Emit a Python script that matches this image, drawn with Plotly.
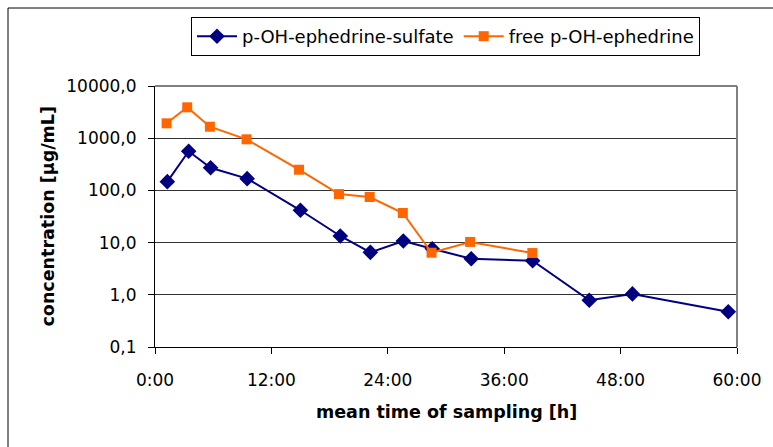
import plotly.graph_objects as go

# ---- data ----
sulfate_time_h = [1.27, 3.47, 5.73, 9.5, 14.99, 19.1, 22.2, 25.6, 28.58, 32.6, 38.93, 44.77, 49.22, 59.1]
sulfate_conc = [147, 561, 272, 168, 41.6, 13.4, 6.5, 10.7, 7.6, 4.9, 4.5, 0.785, 1.04, 0.475]

free_time_h = [1.2, 3.32, 5.66, 9.44, 14.85, 18.97, 22.13, 25.55, 28.51, 32.49, 38.9]
free_conc = [1928, 3907, 1660, 952, 249, 85, 74.8, 36.9, 6.4, 10.3, 6.3]

x_tickvals = [0, 12, 24, 36, 48, 60]
x_ticktext = ["0:00", "12:00", "24:00", "36:00", "48:00", "60:00"]
y_tickvals = [0.1, 1, 10, 100, 1000, 10000]
y_ticktext = ["0,1", "1,0", "10,0", "100,0", "1000,0", "10000,0"]

series_names = ["p-OH-ephedrine-sulfate", "free p-OH-ephedrine"]

# ---- layout geometry (pixels) ----
W, H = 773, 447
L, R, T, B = 155, 737, 86, 347
pw, ph = R - L, B - T

def px_x(p):
    return (p - L) / pw

def px_y(p):
    return (B - p) / ph

FONT = "DejaVu Sans, Verdana, sans-serif"
NAVY = "#000080"
ORANGE = "#FF6600"

fig = go.Figure()
fig.add_trace(go.Scatter(
    x=sulfate_time_h, y=sulfate_conc, mode="lines+markers", name=series_names[0],
    line=dict(color=NAVY, width=2),
    marker=dict(symbol="diamond", size=12, color=NAVY),
))
fig.add_trace(go.Scatter(
    x=free_time_h, y=free_conc, mode="lines+markers", name=series_names[1],
    line=dict(color=ORANGE, width=2),
    marker=dict(symbol="square", size=10, color=ORANGE),
))

fig.update_layout(
    width=W, height=H,
    margin=dict(l=L, r=W - R, t=T, b=H - B),
    paper_bgcolor="white", plot_bgcolor="white",
    font=dict(family=FONT, size=17, color="black"),
    showlegend=True,
    legend=dict(
        orientation="h", x=px_x(445.5), y=px_y(17), xanchor="center", yanchor="top",
        bordercolor="black", borderwidth=1, bgcolor="white",
        font=dict(family=FONT, size=18, color="black"),
        itemwidth=40, tracegroupgap=0,
    ),
    xaxis=dict(
        range=[0, 60], tickvals=x_tickvals, ticktext=x_ticktext,
        showgrid=False, zeroline=False,
        showline=True, linecolor="black", linewidth=1,
        ticks="outside", ticklen=6, tickcolor="black",
        ticklabelstandoff=12,
        tickfont=dict(family=FONT, size=17, color="black"),
    ),
    yaxis=dict(
        type="log", range=[-1, 4], tickvals=y_tickvals, ticktext=y_ticktext,
        showgrid=True, gridcolor="#333333", gridwidth=1, zeroline=False,
        showline=True, linecolor="black", linewidth=1,
        ticks="outside", ticklen=6, tickcolor="black",
        ticklabelstandoff=8,
        tickfont=dict(family=FONT, size=17, color="black"),
    ),
    annotations=[
        dict(text="<b>concentration [µg/mL]</b>", xref="paper", yref="paper",
             x=px_x(47), y=0.5, textangle=-90, showarrow=False,
             xanchor="center", yanchor="middle",
             font=dict(family=FONT, size=17.5, color="black")),
        dict(text="<b>mean time of sampling [h]</b>", xref="paper", yref="paper",
             x=px_x(446), y=px_y(412), showarrow=False,
             xanchor="center", yanchor="middle",
             font=dict(family=FONT, size=17.5, color="black")),
    ],
    shapes=[
        # plot area top / right border in grey
        dict(type="line", xref="paper", yref="paper", x0=0, x1=1, y0=1, y1=1,
             line=dict(color="#808080", width=2)),
        dict(type="line", xref="paper", yref="paper", x0=1, x1=1, y0=0, y1=1,
             line=dict(color="#808080", width=2)),
        # outer chart border
        dict(type="rect", xref="paper", yref="paper",
             x0=px_x(8), x1=px_x(790), y0=px_y(460), y1=px_y(8),
             line=dict(color="black", width=1), layer="below"),
    ],
)

fig.write_html("out.html", config={"displayModeBar": False},
               post_script="document.body.style.margin='0';")
